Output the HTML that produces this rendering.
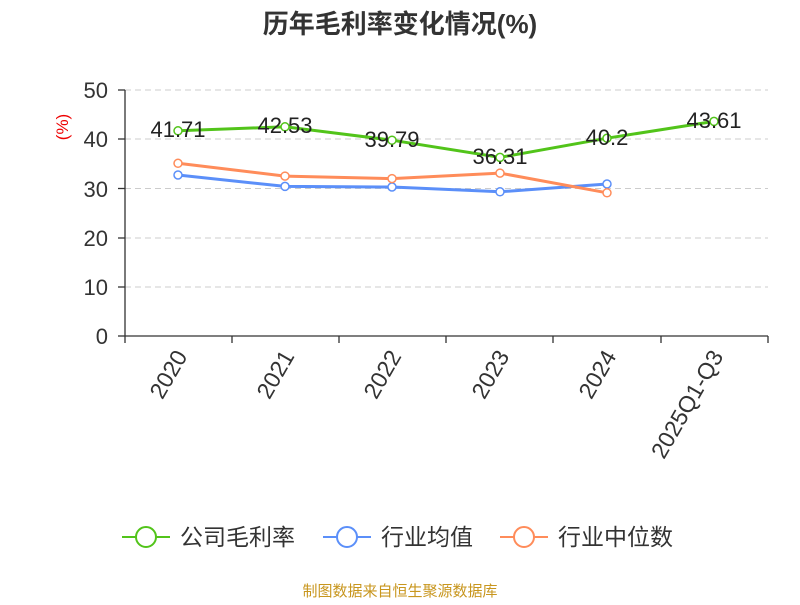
<!DOCTYPE html>
<html><head><meta charset="utf-8"><style>
body{margin:0;background:#fff;width:800px;height:600px;overflow:hidden}
text{font-family:"Liberation Sans","Noto Sans CJK SC",sans-serif}
</style></head><body>
<svg width="800" height="600" xmlns="http://www.w3.org/2000/svg">
<text x="400" y="33" text-anchor="middle" font-size="26" font-weight="bold" fill="#333">历年毛利率变化情况(%)</text>
<g stroke="#ccc" stroke-dasharray="6,4" stroke-width="1">
<line x1="125" y1="90" x2="768" y2="90"/><line x1="125" y1="139" x2="768" y2="139"/>
<line x1="125" y1="188.5" x2="768" y2="188.5"/><line x1="125" y1="238" x2="768" y2="238"/>
<line x1="125" y1="287" x2="768" y2="287"/></g>
<g stroke="#333" stroke-width="1.3">
<line x1="125" y1="90" x2="125" y2="336"/><line x1="125" y1="336" x2="768" y2="336"/>
<line x1="118" y1="90" x2="125" y2="90"/><line x1="118" y1="139" x2="125" y2="139"/><line x1="118" y1="188.5" x2="125" y2="188.5"/><line x1="118" y1="238" x2="125" y2="238"/><line x1="118" y1="287" x2="125" y2="287"/><line x1="118" y1="336" x2="125" y2="336"/>
<line x1="125" y1="336" x2="125" y2="343"/><line x1="232" y1="336" x2="232" y2="343"/><line x1="339" y1="336" x2="339" y2="343"/><line x1="446" y1="336" x2="446" y2="343"/><line x1="553" y1="336" x2="553" y2="343"/><line x1="661" y1="336" x2="661" y2="343"/><line x1="768" y1="336" x2="768" y2="343"/>
</g>
<g font-size="22" fill="#333" text-anchor="end">
<text x="108" y="98">50</text><text x="108" y="147">40</text><text x="108" y="197">30</text><text x="108" y="246">20</text><text x="108" y="295">10</text><text x="108" y="344">0</text></g>
<text transform="translate(68,127) rotate(-90)" font-size="17" fill="#e00" text-anchor="middle">(%)</text>
<g font-size="23" fill="#333" text-anchor="end">
<text transform="translate(188,356) rotate(-60)">2020</text>
<text transform="translate(295,356) rotate(-60)">2021</text>
<text transform="translate(402,356) rotate(-60)">2022</text>
<text transform="translate(510,356) rotate(-60)">2023</text>
<text transform="translate(617,356) rotate(-60)">2024</text>
<text transform="translate(724,356) rotate(-60)">2025Q1-Q3</text></g>
<polyline fill="none" stroke="#5b8ff9" stroke-width="3" points="178,175 285,186.4 392,187 500,191.8 607,184"/>
<polyline fill="none" stroke="#ff8c5a" stroke-width="3" points="178,163.3 285,176.1 392,178.6 500,173.1 607,192.8"/>
<polyline fill="none" stroke="#52c41a" stroke-width="3" points="178,130.8 285,126.8 392,140.2 500,157.4 607,138.2 714,121.4"/>
<g fill="#fff" stroke-width="1.5">
<g stroke="#5b8ff9"><circle cx="178" cy="175" r="4"/><circle cx="285" cy="186.4" r="4"/><circle cx="392" cy="187" r="4"/><circle cx="500" cy="191.8" r="4"/><circle cx="607" cy="184" r="4"/></g>
<g stroke="#ff8c5a"><circle cx="178" cy="163.3" r="4"/><circle cx="285" cy="176.1" r="4"/><circle cx="392" cy="178.6" r="4"/><circle cx="500" cy="173.1" r="4"/><circle cx="607" cy="192.8" r="4"/></g>
<g stroke="#52c41a"><circle cx="178" cy="130.8" r="4"/><circle cx="285" cy="126.8" r="4"/><circle cx="392" cy="140.2" r="4"/><circle cx="500" cy="157.4" r="4"/><circle cx="607" cy="138.2" r="4"/><circle cx="714" cy="121.4" r="4"/></g></g>
<g font-size="22" fill="#222" text-anchor="middle">
<text x="178" y="137">41.71</text><text x="285" y="133">42.53</text><text x="392" y="147">39.79</text><text x="500" y="164">36.31</text><text x="607" y="145">40.2</text><text x="714" y="128">43.61</text></g>
<g stroke-width="2" fill="#fff">
<line x1="122" y1="537" x2="170" y2="537" stroke="#52c41a"/><circle cx="146" cy="537" r="10" stroke="#52c41a"/>
<line x1="323" y1="537" x2="371" y2="537" stroke="#5b8ff9"/><circle cx="347" cy="537" r="10" stroke="#5b8ff9"/>
<line x1="500" y1="537" x2="548" y2="537" stroke="#ff8c5a"/><circle cx="524" cy="537" r="10" stroke="#ff8c5a"/></g>
<g font-size="23" fill="#333"><text x="180" y="545">公司毛利率</text><text x="381" y="545">行业均值</text><text x="558" y="545">行业中位数</text></g>
<text x="400" y="596" text-anchor="middle" font-size="15" fill="#c8961e">制图数据来自恒生聚源数据库</text>
</svg></body></html>
